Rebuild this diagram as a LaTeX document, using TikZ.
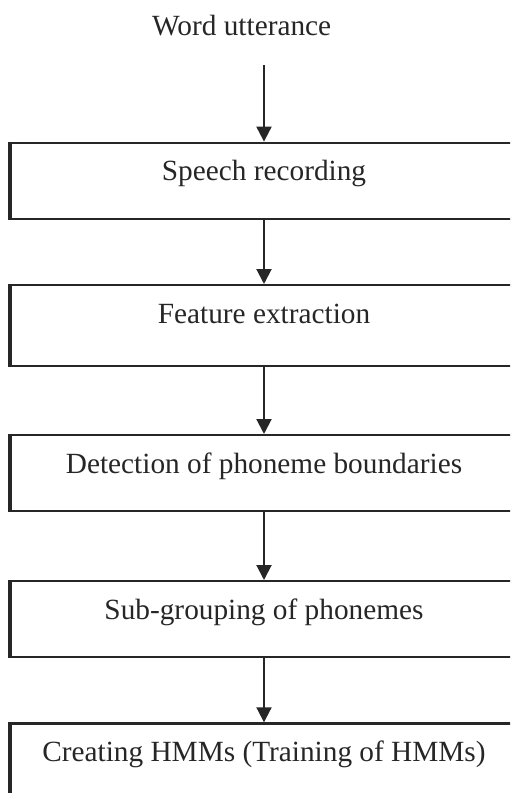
\documentclass[tikz,border=0pt]{standalone}
\usepackage{fontspec}
\setmainfont{Liberation Serif}
\usetikzlibrary{arrows.meta}
\definecolor{ink}{HTML}{262626}
\tikzset{
  stage/.style={draw=ink, line width=1.1pt, anchor=north, inner sep=0pt, minimum width=253.5pt,
    text height=19pt, text depth=19pt, text=ink, font=\fontsize{14.65}{17}\selectfont},
  source/.style={anchor=base, inner sep=0pt, text=ink, font=\fontsize{14.65}{17}\selectfont},
  leftedge/.style={draw=ink, line width=1.6pt},
  flow/.style={-{Triangle[length=7.5pt,width=7.5pt]}, line width=1pt, draw=ink},
}

\begin{document}
\begin{tikzpicture}[x=0.5pt,y=-0.5pt]
  \useasboundingbox (0,0) rectangle (510,793);
  \clip (0,0) rectangle (510,793);
  % input and the five stages, one under the other
  \node[source] (word) at (241.7,35.4) {Word utterance};
  \coordinate (wordout) at (264,65);
  \node[stage] (rec) at (264,141.6) {Speech recording};
  \node[stage, text depth=21.5pt] (feat) at (264,284) {Feature extraction};
  \node[stage] (detect) at (264,434) {Detection of phoneme boundaries};
  \node[stage] (group) at (264,580) {Sub-grouping of phonemes};
  \node[stage, text depth=40pt] (hmm) at (264,722.3) {Creating HMMs (Training of HMMs)};
  \foreach \b in {rec,feat,detect,group,hmm}
    \draw[leftedge] (\b.north west) -- (\b.south west);
  \draw[flow] (wordout) -- (rec.north);
  \draw[flow] (rec.south) -- (feat.north);
  \draw[flow] (feat.south) -- (detect.north);
  \draw[flow] (detect.south) -- (group.north);
  \draw[flow] (group.south) -- (hmm.north);
\end{tikzpicture}
\end{document}
